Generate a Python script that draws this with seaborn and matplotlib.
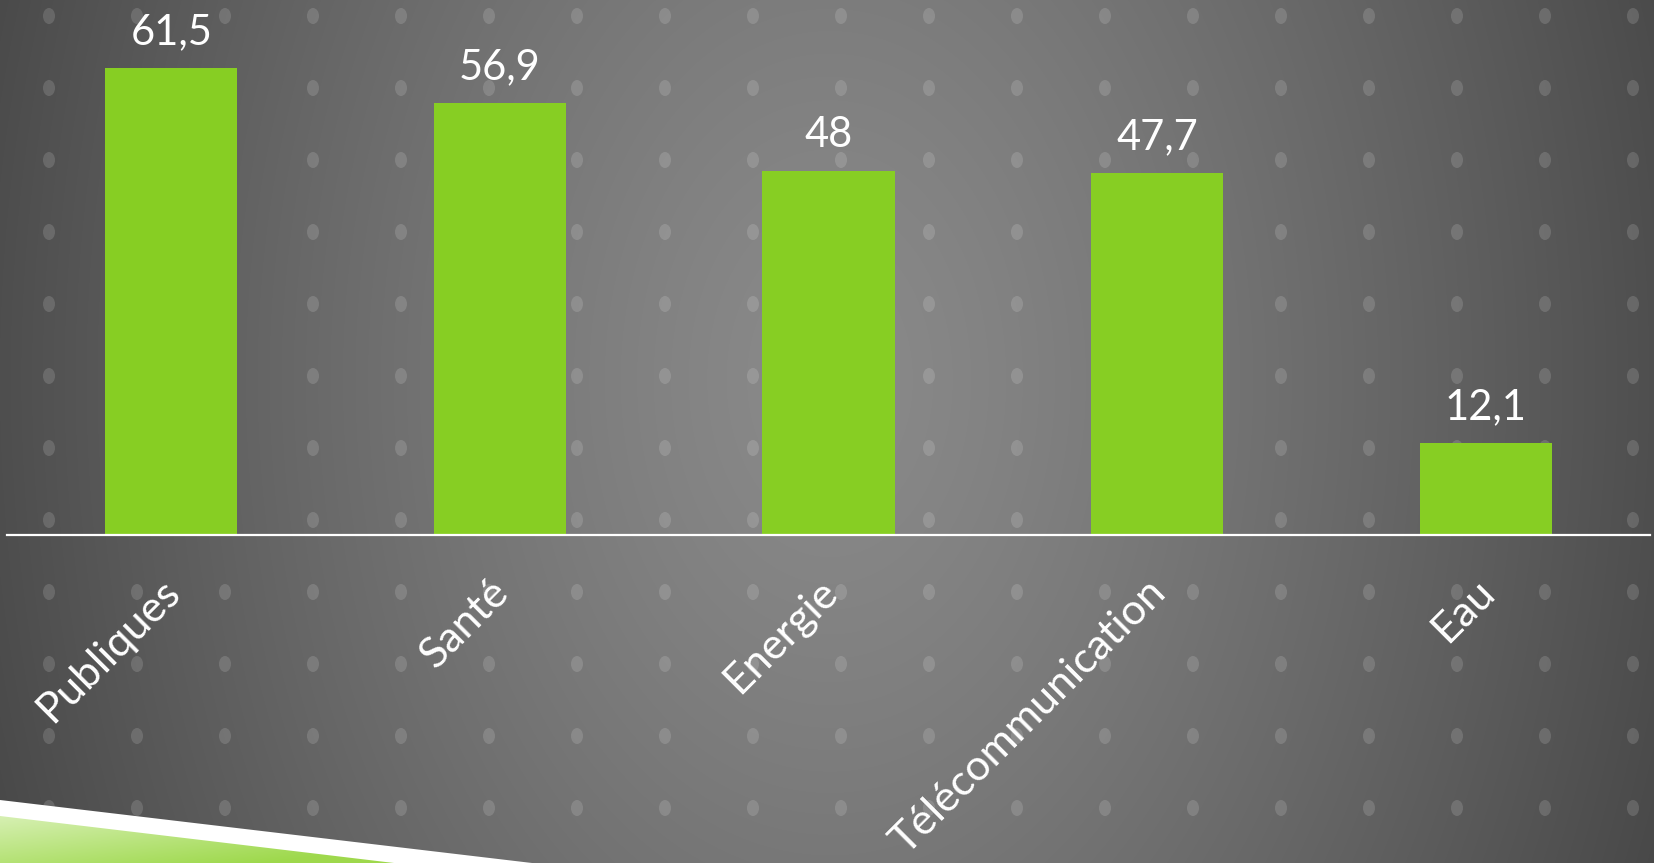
import numpy as np
import pandas as pd
import matplotlib
matplotlib.use("Agg")
import matplotlib.pyplot as plt
import matplotlib.transforms as mtransforms
from matplotlib.patches import Ellipse, Polygon
import seaborn as sns

# ---- data ----
categories = ["Publiques", "Santé", "Energie", "Télécommunication", "Eau"]
values = [61.5, 56.9, 48, 47.7, 12.1]
value_labels = ["61,5", "56,9", "48", "47,7", "12,1"]

BAR_COLOR = "#87CE23"
FONT = ["Lato", "DejaVu Sans"]

sns.set_theme(style="white")
plt.rcParams["font.family"] = FONT

W, H = 1654, 863
fig = plt.figure(figsize=(W / 100, H / 100), dpi=100)

# ---- background layer (gradient, dots, corner decoration) ----
bg = fig.add_axes([0, 0, 1, 1], zorder=0)
bg.set_xlim(0, W)
bg.set_ylim(H, 0)
bg.axis("off")
xx, yy = np.meshgrid(np.arange(W) + 0.5, np.arange(H) + 0.5)
cx, cy = 830, 380
d = np.sqrt(((xx - cx) / 830) ** 2 + ((yy - cy) / 1200) ** 2)
g = (138 - 60 * d ** 1.3) / 255.0
g = np.clip(g, 0, 1)
img = np.dstack([g, g, g])
bg.imshow(img, extent=(0, W, H, 0), aspect="auto", zorder=0, interpolation="bilinear")

for yk in np.arange(16, H, 72):
    for xk in np.arange(49, W, 88):
        bg.add_patch(Ellipse((xk, yk), 12, 16, facecolor="white", alpha=0.14,
                             edgecolor="none", zorder=1))

# white band and green wedge bottom-left
white_poly = Polygon([(0, 800), (532, 863), (0, 863)], closed=True,
                     facecolor="white", edgecolor="none", zorder=2)
bg.add_patch(white_poly)
green_poly = Polygon([(0, 816), (394, 863), (0, 863)], closed=True,
                     facecolor="none", edgecolor="none", zorder=3)
bg.add_patch(green_poly)
gx, gy = np.meshgrid(np.linspace(0, 1, 200), np.linspace(0, 1, 60))
t = np.clip(0.6 * gx + 0.6 * (1 - gy), 0, 1)
c_light = np.array([0.84, 0.94, 0.70])
c_dark = np.array([0.62, 0.85, 0.30])
gimg = c_light[None, None, :] * (1 - t[..., None]) + c_dark[None, None, :] * t[..., None]
gimg = gimg[::-1]
im = bg.imshow(gimg, extent=(0, 394, 863, 816), aspect="auto", zorder=3,
               origin="upper", interpolation="bilinear")
im.set_clip_path(green_poly)

# ---- main chart axes ----
ax = fig.add_axes([7 / W, 1 - 535 / H, 1643 / W, 535 / H], zorder=1)
ax.patch.set_alpha(0)
df = pd.DataFrame({"cat": categories, "val": values})
sns.barplot(data=df, x="cat", y="val", color=BAR_COLOR, saturation=1,
            width=0.402, ax=ax, zorder=2, edgecolor="none", linewidth=0)
ax.set_xlim(-0.5, len(categories) - 0.5)
ax.set_ylim(0, 70.46)
ax.set_xlabel("")
ax.set_ylabel("")
ax.set_yticks([])
for s in ["top", "left", "right"]:
    ax.spines[s].set_visible(False)
ax.spines["bottom"].set_color("white")
ax.spines["bottom"].set_linewidth(1.6)
ax.spines["bottom"].set_zorder(3)

ax.bar_label(ax.containers[0], labels=value_labels, padding=12,
             fontsize=30, color="white", family=FONT)

ax.set_xticks(range(len(categories)))
ax.set_xticklabels(categories, rotation=45, ha="right", va="top",
                   rotation_mode="anchor", fontsize=31, color="white", family=FONT)
ax.tick_params(axis="x", length=0, pad=27)
offset = mtransforms.ScaledTranslation(-11 / 100, 0, fig.dpi_scale_trans)
for lab in ax.get_xticklabels():
    lab.set_transform(lab.get_transform() + offset)

fig.savefig("out.png", dpi=100)
